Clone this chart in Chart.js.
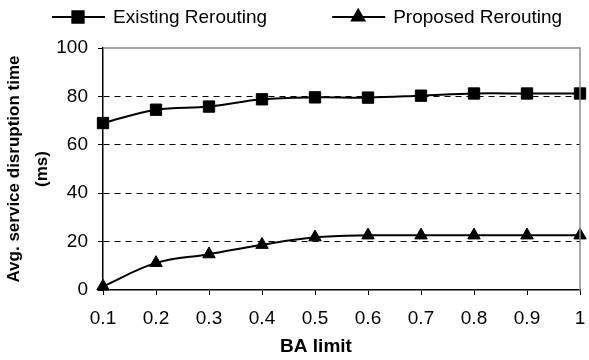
<!DOCTYPE html>
<html>
<head>
<meta charset="utf-8">
<script src="https://cdn.jsdelivr.net/npm/chart.js@4.4.1/dist/chart.umd.min.js"></script>
<style>
  html, body { margin: 0; padding: 0; background: #fff; }
  #wrap { width: 589px; height: 360px; }
</style>
</head>
<body>
<div id="wrap"><canvas id="myChart" width="589" height="360"></canvas></div>
<script>
	const baLimits = ['0.1', '0.2', '0.3', '0.4', '0.5', '0.6', '0.7', '0.8', '0.9', '1'];
	const existingRerouting = [69, 74.5, 75.8, 78.8, 79.6, 79.5, 80.3, 81.2, 81.2, 81.2];
	const proposedRerouting = [1.5, 11.2, 14.8, 18.7, 21.8, 22.6, 22.6, 22.6, 22.6, 22.6];
	const yTicks = [0, 20, 40, 60, 80, 100];

	const FONT = "'Liberation Sans', Arial, sans-serif";

	// legend (line + marker + label) and x title, drawn by hand like excel does
	const excelBits = {
		id: 'excelBits',
		afterDraw(chart) {
			const ctx = chart.ctx;
			const area = chart.chartArea;
			ctx.save();

			// grey frame on top / right
			ctx.strokeStyle = '#8c8c8c';
			ctx.lineWidth = 1.5;
			ctx.beginPath();
			ctx.moveTo(area.left, area.top);
			ctx.lineTo(area.right, area.top);
			ctx.lineTo(area.right, area.bottom);
			ctx.stroke();

			// legend
			ctx.font = '19px ' + FONT;
			ctx.textBaseline = 'middle';
			ctx.fillStyle = '#000';
			let x = 52;
			const y = 17;
			chart.data.datasets.forEach(ds => {
				ctx.strokeStyle = '#000';
				ctx.lineWidth = 2;
				ctx.beginPath();
				ctx.moveTo(x, y);
				ctx.lineTo(x + 53, y);
				ctx.stroke();
				Chart.helpers.drawPoint(ctx, {
					pointStyle: ds.pointStyle,
					radius: ds.pointRadius,
					borderWidth: 1
				}, x + 26, y);
				ctx.fillStyle = '#000';
				ctx.fill();
				ctx.fillText(ds.label, x + 61, y + 1);
				x += 61 + ctx.measureText(ds.label).width + 65;
			});

			// x axis title
			ctx.font = 'bold 19px ' + FONT;
			ctx.textAlign = 'center';
			ctx.fillText('BA limit', 316, 347);
			ctx.restore();
		}
	};

	const data = {
		labels: baLimits,
		datasets: [{
			label: 'Existing Rerouting',
			data: existingRerouting,
			pointStyle: 'rect',
			pointRadius: 8
		}, {
			label: 'Proposed Rerouting',
			data: proposedRerouting,
			pointStyle: 'triangle',
			pointRadius: 7.2
		}].map(d => Object.assign(d, {
			borderColor: '#000',
			backgroundColor: '#000',
			pointBackgroundColor: '#000',
			pointBorderColor: '#000',
			pointBorderWidth: 1,
			borderWidth: 2,
			tension: 0.35,
			clip: false
		}))
	};

	const config = {
		type: 'line',
		data,
		plugins: [excelBits],
		options: {
			responsive: false,
			animation: false,
			layout: { padding: { top: 48, right: 0, bottom: 0, left: 0 } },
			plugins: {
				legend: { display: false },
				tooltip: { enabled: false }
			},
			scales: {
				x: {
					offset: false,
					afterFit: axis => {
						axis.height = 70;
						axis.paddingRight = 9;
					},
					grid: {
						drawOnChartArea: false,
						drawTicks: true,
						tickLength: 5,
						color: '#000'
					},
					border: { color: '#000', width: 1.5 },
					ticks: {
						color: '#000',
						padding: 12,
						maxRotation: 0,
						font: { family: FONT, size: 19 }
					}
				},
				y: {
					min: 0,
					max: 100,
					afterFit: axis => { axis.width = 103; },
					afterBuildTicks: axis => { axis.ticks = yTicks.map(v => ({ value: v })); },
					grid: {
						drawTicks: true,
						tickLength: 5,
						color: ctx => (ctx.tick && (ctx.tick.value === 0 || ctx.tick.value === 100)) ? 'rgba(0,0,0,0)' : '#000',
						tickColor: '#000',
						lineWidth: 1
					},
					border: { color: '#000', width: 1.5, dash: [6, 5] },
					ticks: {
						color: '#000',
						padding: 10,
						font: { family: FONT, size: 19 }
					},
					title: {
						display: true,
						text: ['Avg. service disruption time', '(ms)'],
						color: '#000',
						font: { family: FONT, size: 17, weight: 'bold', lineHeight: 1.65 },
						padding: { top: 0, bottom: 1 }
					}
				}
			}
		}
	};

	const myChart = new Chart(
		document.getElementById('myChart'),
		config
	);
</script>
</body>
</html>
